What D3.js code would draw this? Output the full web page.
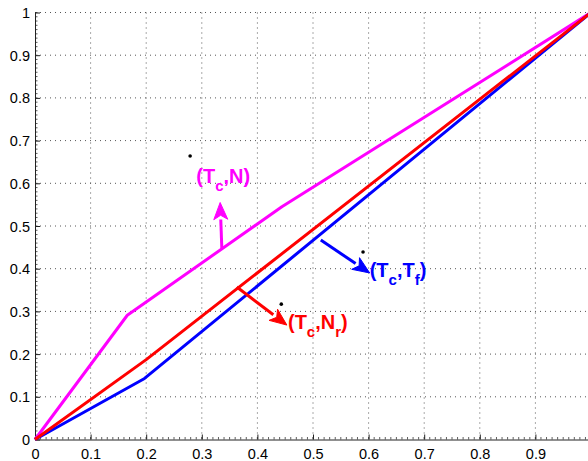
<!DOCTYPE html>
<html>
<head>
<meta charset="utf-8">
<script src="https://cdn.jsdelivr.net/npm/d3@7"></script>
<style>
  body { margin: 0; background: #fff; }
  text { font-family: "Liberation Sans", Arial, sans-serif; }
</style>
</head>
<body>
<svg id="chart" width="588" height="461"></svg>
<script>
// curves (x, y)
let magentaX = [0, 0.166, 0.444, 1];
let magentaY = [0, 0.291, 0.545, 1];
let redX = [0, 0.2, 1];
let redY = [0, 0.187, 1];
let blueX = [0, 0.197, 1];
let blueY = [0, 0.143, 1];

let xTicks = [0, 0.1, 0.2, 0.3, 0.4, 0.5, 0.6, 0.7, 0.8, 0.9];
let yTicks = [0, 0.1, 0.2, 0.3, 0.4, 0.5, 0.6, 0.7, 0.8, 0.9, 1];

// labels: text, subscript, dot, arrow tail -> head
let labels = [
  {color: "#ff00ff", main: ["(T", ",N)"], sub: ["c", ""], tx: 0.29, ty: 0.60,
   dot: [0.279, 0.664], arrow: [0.336, 0.448, 0.333, 0.555]},
  {color: "#ff0000", main: ["(T", ",N", ")"], sub: ["c", "r"], tx: 0.455, ty: 0.258,
   dot: [0.443, 0.317], arrow: [0.363, 0.357, 0.453, 0.268]},
  {color: "#0000ff", main: ["(T", ",T", ")"], sub: ["c", "f"], tx: 0.602, ty: 0.38,
   dot: [0.59, 0.439], arrow: [0.514, 0.467, 0.602, 0.39]}
];

let svg = d3.select("#chart"),
    margin = {top: 12.5, left: 35},
    width = 556,
    height = 427;

let x = d3.scaleLinear().domain([0, 1]).range([0, width]),
    y = d3.scaleLinear().domain([0, 1]).range([height, 0]);

let g = svg.append("g")
  .attr("transform", "translate(" + margin.left + "," + margin.top + ")");

// grid
g.selectAll(".vgrid")
  .data(xTicks.slice(1))
  .enter().append("line")
    .attr("x1", d => x(d)).attr("x2", d => x(d))
    .attr("y1", 0).attr("y2", height)
    .attr("stroke", "#555").attr("stroke-width", 1)
    .attr("stroke-dasharray", "1,4");
g.selectAll(".hgrid")
  .data(yTicks.slice(1))
  .enter().append("line")
    .attr("x1", 0).attr("x2", width)
    .attr("y1", d => y(d)).attr("y2", d => y(d))
    .attr("stroke", "#555").attr("stroke-width", 1)
    .attr("stroke-dasharray", "1,4");

// minor ticks
let minor = d3.range(0, 101).map(i => i / 100);
g.selectAll(".xminor")
  .data(minor)
  .enter().append("line")
    .attr("x1", d => x(d)).attr("x2", d => x(d))
    .attr("y1", height).attr("y2", height - 2.5)
    .attr("stroke", "#333").attr("stroke-width", 0.8);
g.selectAll(".yminor")
  .data(minor)
  .enter().append("line")
    .attr("x1", 0).attr("x2", 2.5)
    .attr("y1", d => y(d)).attr("y2", d => y(d))
    .attr("stroke", "#333").attr("stroke-width", 0.8);

// axes
let xAxis = g.append("g")
  .attr("transform", "translate(0," + height + ")")
  .call(d3.axisBottom(x).tickValues(xTicks).tickFormat(d3.format("")).tickSizeInner(-5).tickSizeOuter(0).tickPadding(9));
let yAxis = g.append("g")
  .call(d3.axisLeft(y).tickValues(yTicks).tickFormat(d3.format("")).tickSizeInner(-5).tickSizeOuter(0).tickPadding(5));
[xAxis, yAxis].forEach(a => {
  a.select(".domain").attr("stroke", "#222").attr("stroke-width", 1);
  a.selectAll(".tick line").attr("stroke", "#222");
  a.selectAll("text").attr("font-size", 14.5).attr("fill", "#000")
    .style("font-family", "'Liberation Sans', Arial, sans-serif");
});
yAxis.selectAll("text").attr("dy", "0.35em");

// curves
let line = d3.line().x(d => x(d[0])).y(d => y(d[1]));
let series = [
  {xs: magentaX, ys: magentaY, color: "#ff00ff"},
  {xs: blueX, ys: blueY, color: "#0000ff"},
  {xs: redX, ys: redY, color: "#ff0000"}
];
series.forEach(s => {
  g.append("path")
    .datum(d3.zip(s.xs, s.ys))
    .attr("d", line)
    .attr("fill", "none")
    .attr("stroke", s.color)
    .attr("stroke-width", 3)
    .attr("stroke-linejoin", "round");
});

// annotations
labels.forEach(l => {
  let a = l.arrow;
  let x1 = x(a[0]), y1 = y(a[1]), x2 = x(a[2]), y2 = y(a[3]);
  let ang = Math.atan2(y2 - y1, x2 - x1);
  let len = 17, half = 7;
  let bx = x2 - len * Math.cos(ang), by = y2 - len * Math.sin(ang);
  g.append("line")
    .attr("x1", x1).attr("y1", y1).attr("x2", bx).attr("y2", by)
    .attr("stroke", l.color).attr("stroke-width", 3);
  let head = [
    [x2, y2],
    [bx - half * Math.sin(ang), by + half * Math.cos(ang)],
    [x2 - 0.75 * len * Math.cos(ang), y2 - 0.75 * len * Math.sin(ang)],
    [bx + half * Math.sin(ang), by - half * Math.cos(ang)]
  ];
  g.append("path")
    .attr("d", "M" + head.join("L") + "Z")
    .attr("fill", l.color).attr("stroke", l.color).attr("stroke-width", 1);

  g.append("circle")
    .attr("cx", x(l.dot[0])).attr("cy", y(l.dot[1]))
    .attr("r", 1.8).attr("fill", "#000");

  let t = g.append("text")
    .attr("x", x(l.tx)).attr("y", y(l.ty))
    .attr("fill", l.color)
    .attr("font-size", 20)
    .attr("font-weight", "bold");
  l.main.forEach((m, i) => {
    t.append("tspan").text(m).attr("dy", i === 0 ? 0 : -8);
    if (l.sub[i]) t.append("tspan").text(l.sub[i]).attr("font-size", 15).attr("dy", 8);
  });
});
</script>
</body>
</html>
